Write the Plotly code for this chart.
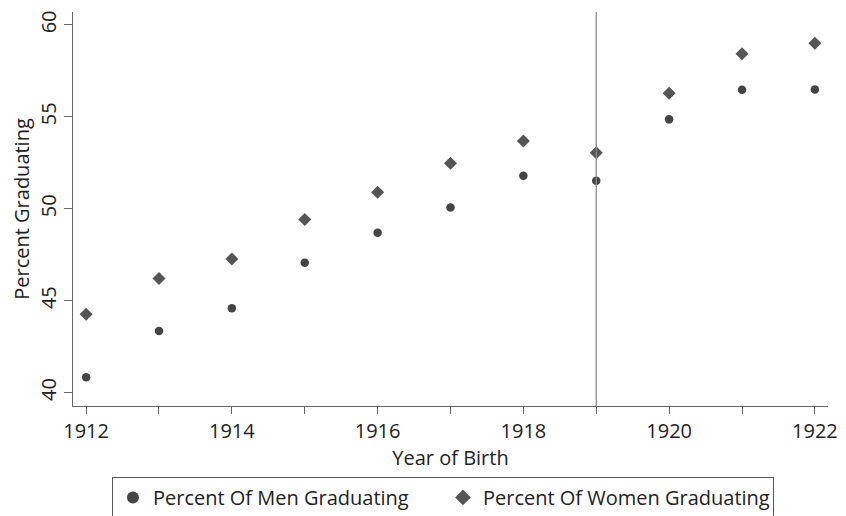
import plotly.graph_objects as go

years = [1912, 1913, 1914, 1915, 1916, 1917, 1918, 1919, 1920, 1921, 1922]
men_pct = [40.83, 43.35, 44.59, 47.06, 48.69, 50.07, 51.79, 51.52, 54.86, 56.47, 56.49]
women_pct = [44.26, 46.2, 47.27, 49.42, 50.89, 52.47, 53.68, 53.04, 56.28, 58.43, 59.0]
x_ticks = [1912, 1914, 1916, 1918, 1920, 1922]
y_ticks = [40, 45, 50, 55, 60]
cutoff_year = 1919

FONT = "Open Sans"
men_color = "#444444"
women_color = "#555555"

fig = go.Figure()
fig.add_trace(go.Scatter(
    x=years, y=men_pct, mode="markers", name="Percent Of Men Graduating",
    marker=dict(symbol="circle", size=8.5, color=men_color, line=dict(width=0)),
))
fig.add_trace(go.Scatter(
    x=years, y=women_pct, mode="markers", name="Percent Of Women Graduating",
    marker=dict(symbol="diamond", size=10, color=women_color, line=dict(width=0)),
))

fig.add_shape(type="line", xref="x", yref="paper", x0=cutoff_year, x1=cutoff_year,
              y0=0, y1=1, line=dict(color="#8a8a8a", width=1.3))

fig.update_layout(
    width=846, height=516,
    margin=dict(l=65, r=26, t=4, b=118),
    paper_bgcolor="white", plot_bgcolor="white",
    font=dict(family=FONT, size=19, color="#222"),
    showlegend=True,
    legend=dict(
        orientation="h", x=0.49, xanchor="center", y=-0.18, yanchor="top",
        bordercolor="#555", borderwidth=1, bgcolor="white",
        font=dict(family=FONT, size=20, color="#222"),
        entrywidth=285, entrywidthmode="pixels",
        itemsizing="constant",
    ),
    xaxis=dict(
        range=[1911.82, 1922.18], tickmode="array", tickvals=x_ticks,
        ticktext=[str(v) for v in x_ticks], automargin=False,
        showgrid=False, zeroline=False, showline=True, linecolor="#666", linewidth=1.3,
        ticks="outside", ticklen=7, tickcolor="#666", tickwidth=1.3,
        tickfont=dict(size=20),
        title=dict(text="Year of Birth", font=dict(size=20), standoff=0),
        minor=dict(ticks="outside", ticklen=7, tickcolor="#666", dtick=1, tick0=1912, tickwidth=1.3),
    ),
    yaxis=dict(
        range=[39.27, 60.7], tickmode="array", tickvals=y_ticks,
        ticktext=[str(v) for v in y_ticks], automargin=False,
        showgrid=False, zeroline=False, showline=True, linecolor="#666", linewidth=1.3,
        ticks="outside", ticklen=8, tickcolor="#666", tickwidth=1.3,
        tickfont=dict(size=20), tickangle=-90,
        title=dict(text="Percent Graduating", font=dict(size=20), standoff=4),
    ),
)

fig.write_html("out.html")
